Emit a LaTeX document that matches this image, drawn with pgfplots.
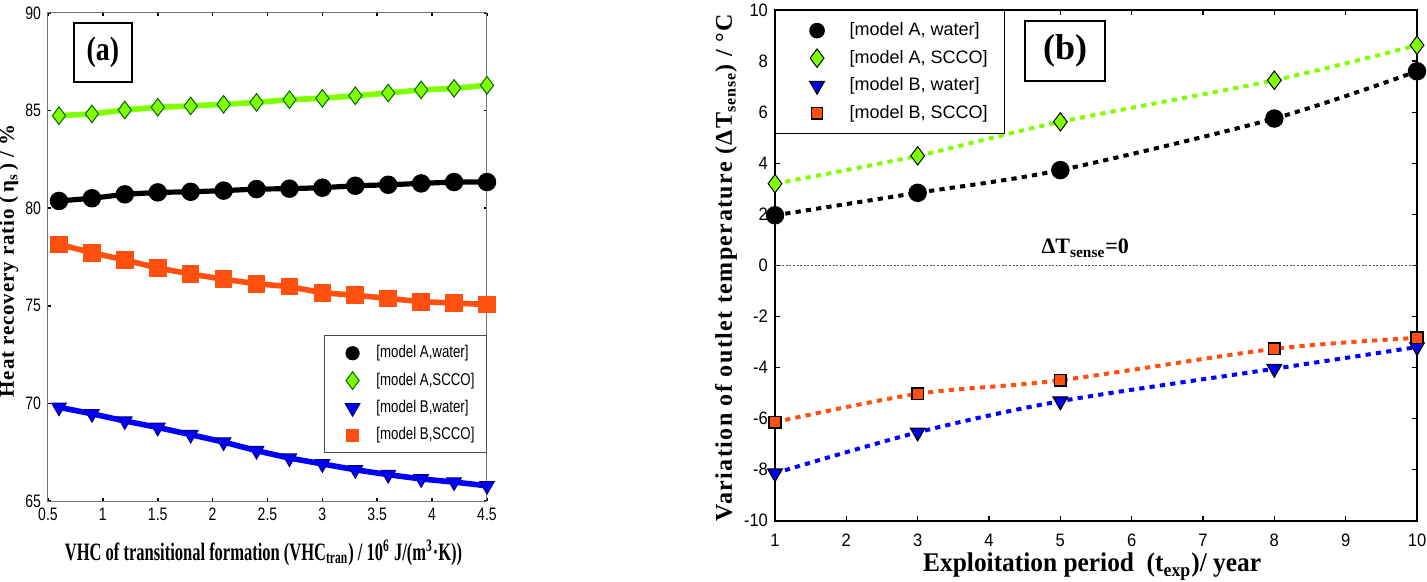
\documentclass[border=0pt]{standalone}
\usepackage{fontspec}
\setmainfont{Liberation Serif}
\newfontfamily\nsans[FakeStretch=0.78]{Liberation Sans}
\newfontfamily\nserif[FakeStretch=0.66]{Liberation Serif}
\newfontfamily\bsans{Liberation Sans}
\usepackage{pgfplots}
\pgfplotsset{compat=1.18}
\definecolor{cgreen}{RGB}{128,255,0}
\definecolor{corange}{RGB}{255,80,16}
\definecolor{cblue}{RGB}{0,0,255}

\pgfplotstableread{
x     aw     as     bw     bs
0.6  80.37  84.74  69.80  78.15
0.9  80.51  84.83  69.47  77.72
1.2  80.71  85.03  69.10  77.35
1.5  80.81  85.17  68.77  76.94
1.8  80.84  85.24  68.40  76.63
2.1  80.90  85.32  68.02  76.36
2.4  80.98  85.42  67.58  76.13
2.7  81.00  85.56  67.20  75.98
3.0  81.05  85.63  66.90  75.67
3.3  81.15  85.76  66.60  75.54
3.6  81.20  85.90  66.35  75.38
3.9  81.27  86.06  66.13  75.21
4.2  81.34  86.14  65.97  75.14
4.5  81.34  86.30  65.78  75.07
}\tabA

\pgfplotstableread{
x   aw     as     bw     bs
1   1.96   3.20  -8.14  -6.14
3   2.84   4.29  -6.54  -5.03
5   3.73   5.62  -5.32  -4.50
8   5.75   7.25  -4.05  -3.27
10  7.60   8.62  -3.20  -2.84
}\tabB

\begin{document}
\begin{tikzpicture}
\path[use as bounding box] (0,0) rectangle (713.5pt,-291pt);

% ---------------- panel (a)
\begin{axis}[
  at={(24pt,-250.5pt)}, anchor=south west, scale only axis,
  width=219.5pt, height=244pt,
  xmin=0.5, xmax=4.5, ymin=65, ymax=90,
  xtick={0.5,1,...,4.5}, ytick={65,70,...,90},
  axis line style={draw=black!55, line width=0.5pt},
  tick style={black, line width=0.8pt}, major tick length=1.5pt, tick align=inside,
  ticklabel style={font=\nsans\fontsize{9}{9}\selectfont},
  /pgf/number format/assume math mode=true,
  clip=false,
  xlabel={\nserif\bfseries\fontsize{12.5}{13}\selectfont VHC of transitional formation (VHC\textsubscript{tran}) / 10\textsuperscript{6} J/(m\textsuperscript{3}·K))},
  xlabel style={at={(axis description cs:0.491,-0.121)}, anchor=base},
  ylabel={\bfseries\addfontfeature{LetterSpace=4}\fontsize{10.5}{12}\selectfont Heat recovery ratio (\,η\textsubscript{s}\,) / \%},
  ylabel style={at={(axis description cs:-0.0775,0.492)}, anchor=base},
  legend image code/.code={\draw[mark repeat=2, mark phase=2, #1, draw=none] plot coordinates {(-0.35cm,0cm) (0cm,0cm) (0.35cm,0cm)};},
  legend style={at={(1,0.340)}, anchor=north east, draw=black!70, line width=0.5pt,
    font=\nsans\fontsize{8.5}{9}\selectfont, row sep=2pt, inner xsep=4pt, inner ysep=3pt},
  legend cell align=left,
]
\addplot[black, line width=2.6pt, mark=*, mark size=3.3pt, forget plot] table[x=x,y=aw]{\tabA};
\addplot[cgreen, line width=2.8pt, mark=diamond*, mark size=4.4pt, mark options={fill=cgreen, draw=black!60!green, line width=0.5pt}, forget plot] table[x=x,y=as]{\tabA};
\addplot[cblue, line width=2.8pt, mark=triangle*, mark size=4.2pt, mark options={rotate=180, fill=cblue, draw=blue!50!black, line width=0.5pt}, forget plot] table[x=x,y=bw]{\tabA};
\addplot[corange, line width=2.8pt, mark=square*, mark size=3pt, mark options={fill=corange, draw=corange}, forget plot] table[x=x,y=bs]{\tabA};
\addlegendimage{mark=*, mark size=3.3pt, mark options={draw=black, fill=black}}
\addlegendentry{[model A,water]}
\addlegendimage{mark=diamond*, mark size=4.4pt, mark options={fill=cgreen, draw=black!60!green, line width=0.5pt}}
\addlegendentry{[model A,SCCO]}
\addlegendimage{mark=triangle*, mark size=4.2pt, mark options={rotate=180, fill=cblue, draw=blue!50!black, line width=0.5pt}}
\addlegendentry{[model B,water]}
\addlegendimage{mark=square*, mark size=3pt, mark options={fill=corange, draw=corange}}
\addlegendentry{[model B,SCCO]}
\node[draw=black, line width=1.3pt, minimum width=29pt, minimum height=29.5pt, inner sep=0pt,
  font=\addfontfeature{FakeStretch=0.82}\bfseries\fontsize{17}{17}\selectfont] at (rel axis cs:0.125,0.919) {(a)};
\end{axis}

% ---------------- panel (b)
\begin{axis}[
  at={(387.5pt,-260.35pt)}, anchor=south west, scale only axis,
  width=321pt, height=255.35pt,
  xmin=1, xmax=10, ymin=-10, ymax=10,
  xtick={1,...,10}, ytick={-10,-8,...,10},
  axis line style={draw=black, line width=1pt},
  tick style={black, line width=0.6pt}, major tick length=2.5pt, tick align=inside,
  ticklabel style={font=\bsans\addfontfeature{FakeStretch=0.92}\fontsize{9}{9}\selectfont},
  xticklabel style={yshift=-3pt},
  /pgf/number format/assume math mode=true,
  clip=false,
  xlabel={\bfseries\addfontfeature{FakeStretch=0.94}\fontsize{13.5}{14}\selectfont Exploitation period\ \ (t\textsubscript{exp})/ year},
  xlabel style={at={(axis description cs:0.494,-0.100)}, anchor=base},
  ylabel={\bfseries\addfontfeature{LetterSpace=6}\fontsize{12}{13}\selectfont Variation of outlet temperature (ΔT\textsubscript{sense}) / °C},
  ylabel style={at={(axis description cs:-0.067,0.495)}, anchor=base},
  legend image code/.code={\draw[mark repeat=2, mark phase=2, #1, draw=none] plot coordinates {(-0.5cm,0cm) (0cm,0cm) (0.5cm,0cm)};},
  legend style={at={(0,1)}, anchor=north west, draw=black, line width=0.6pt,
    font=\bsans\fontsize{9}{10}\selectfont, row sep=1.75pt, inner xsep=6.5pt, inner ysep=4pt},
  legend cell align=left,
]
\addplot[gray!70!black, line width=0.7pt, dash pattern=on 1pt off 0.8pt, forget plot] coordinates {(1,0) (10,0)};
\addplot[black, line width=2pt, dash pattern=on 2.6pt off 2.6pt, smooth, mark=*, mark size=3.6pt, mark options={solid}, forget plot] table[x=x,y=aw]{\tabB};
\addplot[cgreen, line width=2pt, dash pattern=on 2.6pt off 2.6pt, smooth, mark=diamond*, mark size=4.6pt, mark options={solid, fill=cgreen, draw=black, line width=0.5pt}, forget plot] table[x=x,y=as]{\tabB};
\addplot[cblue, line width=2pt, dash pattern=on 2.6pt off 2.6pt, smooth, mark=triangle*, mark size=4.2pt, mark options={solid, rotate=180, fill=cblue, draw=black, line width=0.6pt}, forget plot] table[x=x,y=bw]{\tabB};
\addplot[corange, line width=2pt, dash pattern=on 2.6pt off 2.6pt, smooth, mark=square*, mark size=2.9pt, mark options={solid, fill=corange, draw=black, line width=0.8pt}, forget plot] table[x=x,y=bs]{\tabB};
\addlegendimage{mark=*, mark size=3.6pt, mark options={draw=black, fill=black}}
\addlegendentry{[model A, water]}
\addlegendimage{mark=diamond*, mark size=4.6pt, mark options={fill=cgreen, draw=black, line width=0.5pt}}
\addlegendentry{[model A, SCCO]}
\addlegendimage{mark=triangle*, mark size=4.2pt, mark options={rotate=180, fill=cblue, draw=black, line width=0.6pt}}
\addlegendentry{[model B, water]}
\addlegendimage{mark=square*, mark size=2.9pt, mark options={fill=corange, draw=black, line width=0.6pt}}
\addlegendentry{[model B, SCCO]}
\node[draw=black, line width=1.3pt, minimum width=40pt, minimum height=30pt, inner sep=0pt,
  font=\bfseries\fontsize{18}{18}\selectfont] at (rel axis cs:0.452,0.92) {(b)};
\node[font=\bfseries\fontsize{11}{12}\selectfont] at (axis cs:5.35,0.67) {ΔT\textsubscript{sense}=0};
\end{axis}
\end{tikzpicture}
\end{document}
